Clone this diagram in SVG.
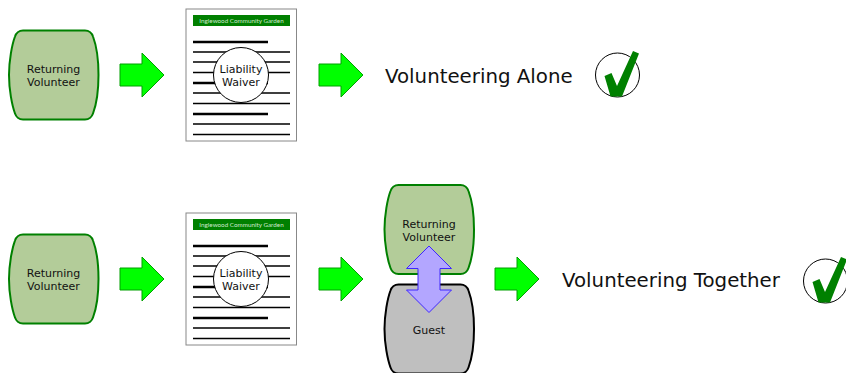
<svg xmlns="http://www.w3.org/2000/svg" width="846" height="373" viewBox="0 0 846 373">
<defs>
<style>
text{font-family:"DejaVu Sans",sans-serif;fill:#111;text-anchor:middle}
.lbl{font-size:11px}
.big{font-size:19.800px;text-anchor:start}
.vol{fill:#b3cc99;stroke:#008000;stroke-width:2}
.guest{fill:#bfbfbf;stroke:#000;stroke-width:2}
.arrow{fill:#00ff00;stroke:#00a000;stroke-width:1}
.thin{stroke:#000;stroke-width:1.300}
.thick{stroke:#000;stroke-width:2.300}
</style>
<path id="shape" d="M14 0H76C80 0 83 3 84 6C87 14 89.500 30 89.500 44.500C89.500 59 87 75 84 83C83 86 80 89 76 89H14C10 89 7 86 6 83C3 75 0 59 0 44.500C0 30 3 14 6 6C7 3 10 0 14 0Z"/>
<polygon id="arr" points="0,-11 22,-11 22,-22 44,0 22,22 22,11 0,11"/>
<g id="paper">
<rect x="186" y="9" width="110.500" height="132" fill="#fff" stroke="#888" stroke-width="1"/>
<rect x="193" y="15" width="97" height="11" fill="#008000"/>
<text x="241.500" y="22.500" style="font-family:'Lato',sans-serif;font-size:6.300px;fill:#cfe8cf">Inglewood Community Garden</text>
<path class="thick" d="M193 42H268M193 83H268M193 114H268"/>
<path class="thin" d="M193 52H290M193 62H290M193 72.500H290M193 93H290M193 103.500H290M193 124H290M193 134.500H290"/>
<circle cx="241" cy="75" r="27.500" fill="#fff" stroke="#000" stroke-width="1"/>
<text class="lbl" x="241" y="73">Liability</text>
<text class="lbl" x="241" y="86">Waiver</text>
</g>
<g id="chk">
<circle cx="617.500" cy="75" r="22" fill="#fff" stroke="#000" stroke-width="1"/>
<polygon points="633,51 639,53.500 622,96.500 610.500,96.500 604.500,76 611.500,73 617,86" fill="#008000"/>
</g>
</defs>
<g id="connectors">
<use href="#arr" class="arrow" x="120" y="75"/>
<use href="#arr" class="arrow" x="319" y="75"/>
<use href="#arr" class="arrow" x="120" y="279"/>
<use href="#arr" class="arrow" x="319" y="279"/>
<use href="#arr" class="arrow" x="495" y="279"/>
</g>
<g id="volunteer1"><use href="#shape" class="vol" x="9" y="30.500"/><text class="lbl" x="53.500" y="73">Returning</text><text class="lbl" x="53.500" y="86">Volunteer</text></g>
<g id="waiver1"><use href="#paper"/></g>
<g id="outcome1"><text class="big" x="385" y="83">Volunteering Alone</text></g>
<g id="check1"><use href="#chk"/></g>
<g id="volunteer2"><use href="#shape" class="vol" x="9" y="234.500"/><text class="lbl" x="53.500" y="277">Returning</text><text class="lbl" x="53.500" y="290">Volunteer</text></g>
<g id="waiver2"><use href="#paper" y="204"/></g>
<g id="guest"><use href="#shape" class="guest" x="384.500" y="284.500"/><text class="lbl" x="429" y="334">Guest</text></g>
<g id="volunteer3"><use href="#shape" class="vol" x="384.500" y="185"/><text class="lbl" x="429" y="228">Returning</text><text class="lbl" x="429" y="241">Volunteer</text></g>
<g id="exchange"><polygon points="429,246 451.500,268.500 440,268.500 440,290 451.500,290 429,312.500 406.500,290 418,290 418,268.500 406.500,268.500" fill="#b3a6ff" stroke="#3f26ff" stroke-width="1"/></g>
<g id="outcome2"><text class="big" x="562" y="287">Volunteering Together</text></g>
<g id="check2"><use href="#chk" x="208" y="206"/></g>
</svg>
